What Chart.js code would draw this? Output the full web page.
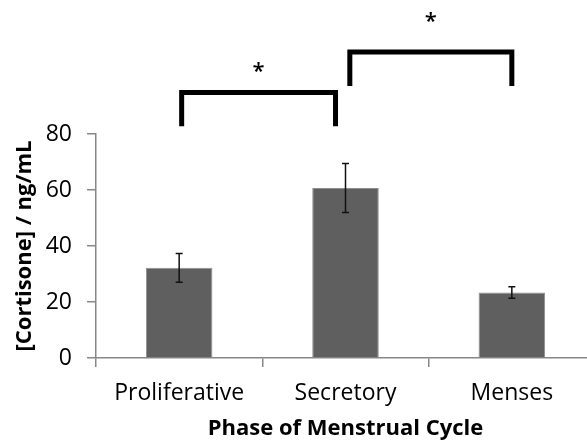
<!DOCTYPE html>
<html>
<head>
<meta charset="utf-8">
<script src="https://cdn.jsdelivr.net/npm/chart.js@4.4.1/dist/chart.umd.min.js"></script>
<style>
  html, body { margin: 0; padding: 0; overflow: hidden; background: #ffffff; }
  #wrap { width: 600px; height: 444px; position: relative; }
</style>
</head>
<body>
<div id="wrap"><canvas id="chart"></canvas></div>
<script>
// Cortisone concentration by phase of the menstrual cycle (mean ± error)
const phases = ['Proliferative', 'Secretory', 'Menses'];
const cortisone = [32.2, 60.7, 23.4];
const cortisoneErr = [5.15, 8.75, 2.05];
const yTicks = [0, 20, 40, 60, 80];

// Significance brackets: start/end category, height of the bar, foot of the legs
const bracketFrom = [0.015, 1.026];
const bracketTo = [0.94, 2.0];
const bracketTop = [94.8, 109.3];
const bracketLeg = [82.8, 97.1];
const starLevel = [103.6, 121.7];
const starText = ['*', '*'];

const FONT = "'Open Sans', 'DejaVu Sans', sans-serif";
const AXIS_GREY = '#878787';

const errorBarsAndBrackets = {
  id: 'errorBarsAndBrackets',
  afterDatasetsDraw(chart) {
    const ctx = chart.ctx;
    const x = chart.scales.x;
    const y = chart.scales.y;
    ctx.save();

    // error bars
    ctx.strokeStyle = '#111111';
    ctx.lineWidth = 1.5;
    cortisone.forEach((v, i) => {
      const cx = x.getPixelForValue(i);
      const yHi = y.getPixelForValue(v + cortisoneErr[i]);
      const yLo = y.getPixelForValue(v - cortisoneErr[i]);
      ctx.beginPath();
      ctx.moveTo(cx, yHi); ctx.lineTo(cx, yLo);
      ctx.moveTo(cx - 3.5, yHi); ctx.lineTo(cx + 3.5, yHi);
      ctx.moveTo(cx - 3.5, yLo); ctx.lineTo(cx + 3.5, yLo);
      ctx.stroke();
    });

    // significance brackets
    ctx.strokeStyle = '#000000';
    ctx.lineWidth = 5;
    ctx.lineJoin = 'miter';
    ctx.lineCap = 'butt';
    bracketFrom.forEach((from, i) => {
      const x0 = x.getPixelForValue(from);
      const x1 = x.getPixelForValue(bracketTo[i]);
      const yt = y.getPixelForValue(bracketTop[i]);
      const yl = y.getPixelForValue(bracketLeg[i]);
      ctx.beginPath();
      ctx.moveTo(x0, yl);
      ctx.lineTo(x0, yt);
      ctx.lineTo(x1, yt);
      ctx.lineTo(x1, yl);
      ctx.stroke();

      ctx.fillStyle = '#000000';
      ctx.font = '600 22px ' + FONT;
      ctx.textAlign = 'center';
      ctx.textBaseline = 'middle';
      const mid = (from + bracketTo[i]) / 2;
      ctx.fillText(starText[i], x.getPixelForValue(mid), y.getPixelForValue(starLevel[i]) + 4);
    });
    ctx.restore();
  }
};

new Chart(document.getElementById('chart'), {
  type: 'bar',
  data: {
    labels: phases,
    datasets: [{
      data: cortisone,
      backgroundColor: '#5f5f5f',
      borderColor: '#8e8e8e',
      borderWidth: 1,
      barPercentage: 0.4,
      categoryPercentage: 1.0
    }]
  },
  options: {
    responsive: true,
    maintainAspectRatio: false,
    animation: false,
    layout: { padding: { top: 134, left: 0, right: 5, bottom: 0 } },
    plugins: {
      legend: { display: false },
      tooltip: { enabled: false }
    },
    scales: {
      x: {
        offset: true,
        grid: {
          offset: true,
          drawOnChartArea: false,
          drawTicks: true,
          tickLength: 9,
          color: AXIS_GREY,
          lineWidth: 1.5
        },
        border: { display: true, color: AXIS_GREY, width: 1.5 },
        ticks: {
          color: '#000000',
          padding: 13,
          font: { family: FONT, size: 23 }
        },
        title: {
          display: true,
          text: 'Phase of Menstrual Cycle',
          color: '#000000',
          font: { family: FONT, size: 22, weight: 'bold', lineHeight: 1.2 },
          padding: { top: 0, bottom: 2 }
        },
        afterFit(scale) { scale.height = 86; }
      },
      y: {
        min: 0,
        max: 80,
        afterBuildTicks(scale) { scale.ticks = yTicks.map(v => ({ value: v })); },
        grid: {
          drawOnChartArea: false,
          drawTicks: true,
          tickLength: 9,
          color: AXIS_GREY,
          lineWidth: 1.5
        },
        border: { display: true, color: AXIS_GREY, width: 1.5 },
        ticks: {
          color: '#000000',
          padding: 15,
          font: { family: FONT, size: 23 }
        },
        title: {
          display: true,
          text: '[Cortisone] / ng/mL',
          color: '#000000',
          font: { family: FONT, size: 22, weight: 'bold', lineHeight: 1.2 },
          padding: { top: 12, bottom: 0 }
        },
        afterFit(scale) { scale.width = 96; }
      }
    }
  },
  plugins: [errorBarsAndBrackets]
});
</script>
</body>
</html>
